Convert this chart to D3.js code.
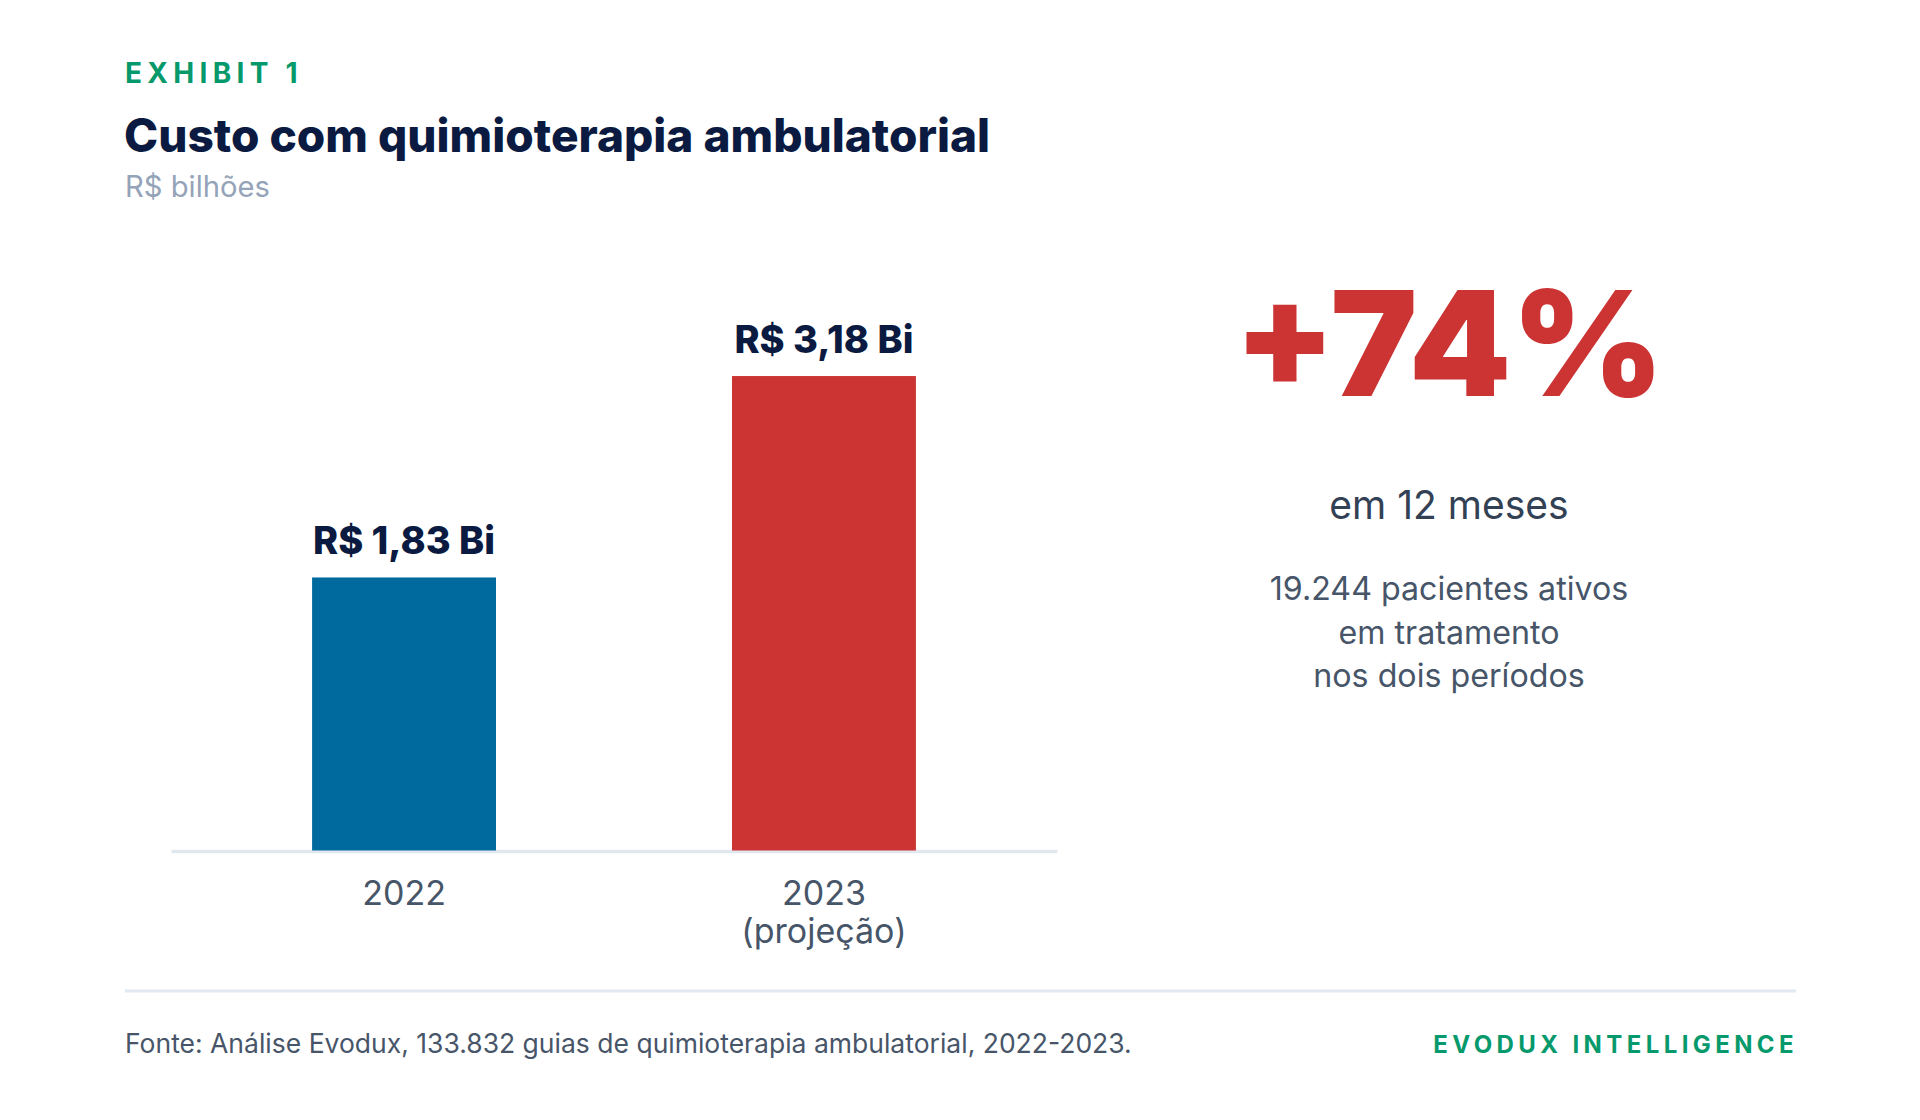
<!DOCTYPE html>
<html>
<head>
<meta charset="utf-8">
<script src="https://cdn.jsdelivr.net/npm/d3@7"></script>
<style>
  html, body { margin: 0; padding: 0; background: #ffffff; }
  svg { display: block; font-family: Inter, "Noto Sans", sans-serif; }
</style>
</head>
<body>
<svg id="chart" width="1920" height="1120"></svg>
<script>
// Exhibit 1: ambulatory chemotherapy cost, 2022 vs 2023 projection.

const years = ["2022", "2023"];
const yearNotes = ["", "(projeção)"];
const costs = [1.83, 3.18];            // R$ bilhões
const barColors = ["#006a9e", "#cc3333"];
const sideLines = ["19.244 pacientes ativos", "em tratamento", "nos dois períodos"];

const navy = "#0b1a40";
const green = "#06996b";
const slate = "#475569";

const svg = d3.select("#chart");

// header
svg.append("text")
  .attr("x", 125).attr("y", 83)
  .attr("font-size", 28).attr("font-weight", 700)
  .attr("letter-spacing", 5.3)
  .attr("fill", green)
  .text("EXHIBIT 1");

svg.append("text")
  .attr("x", 124).attr("y", 152)
  .attr("font-size", 46).attr("font-weight", 800)
  .attr("fill", navy)
  .text("Custo com quimioterapia ambulatorial");

svg.append("text")
  .attr("x", 125).attr("y", 197)
  .attr("font-size", 29.2)
  .attr("fill", "#94a3b8")
  .text("R$ bilhões");

// bars
const x = d3.scaleBand()
  .domain(years)
  .range([171, 1057])
  .paddingInner(0.562)
  .paddingOuter(0.336);

const y = d3.scaleLinear()
  .domain([0, 3.5])
  .range([850.5, 850.5 - 3.5 * 149.2]);

const xAxis = d3.axisBottom(x).tickSize(0).tickSizeOuter(0);

const axisG = svg.append("g")
  .attr("transform", `translate(0,${851})`)
  .call(xAxis);

axisG.select(".domain")
  .attr("stroke", "#e2e8f0")
  .attr("stroke-width", 3.5);

axisG.selectAll(".tick text").each(function(d, i) {
  const t = d3.select(this)
    .attr("y", 54)
    .attr("dy", null)
    .attr("font-family", "Inter, 'Noto Sans', sans-serif")
    .attr("font-size", 34)
    .attr("fill", slate)
    .text(null);
  t.append("tspan").attr("x", 0).text(d);
  if (yearNotes[i]) {
    t.append("tspan").attr("x", 0).attr("dy", 38).text(yearNotes[i]);
  }
});

const fmt = v => `R$ ${d3.format(".2f")(v).replace(".", ",")} Bi`;

svg.selectAll(".bar")
  .data(costs)
  .join("rect")
  .attr("class", "bar")
  .attr("x", (d, i) => x(years[i]))
  .attr("y", d => y(d))
  .attr("width", x.bandwidth())
  .attr("height", d => y(0) - y(d))
  .attr("fill", (d, i) => barColors[i]);

svg.selectAll(".bar-label")
  .data(costs)
  .join("text")
  .attr("class", "bar-label")
  .attr("x", (d, i) => x(years[i]) + x.bandwidth() / 2)
  .attr("y", d => y(d) - 23)
  .attr("text-anchor", "middle")
  .attr("font-size", 38).attr("font-weight", 800)
  .attr("fill", navy)
  .text(fmt);

// growth callout
const growth = Math.round((costs[1] / costs[0] - 1) * 100);
const cx = 1449;

svg.append("text")
  .attr("x", cx).attr("y", 396)
  .attr("text-anchor", "middle")
  .attr("font-size", 146).attr("font-weight", 900)
  .attr("fill", "#cc3333")
  .text(`+${growth}%`);

svg.append("text")
  .attr("x", cx).attr("y", 519)
  .attr("text-anchor", "middle")
  .attr("font-size", 39)
  .attr("fill", "#334155")
  .text("em 12 meses");

svg.selectAll(".side-line")
  .data(sideLines)
  .join("text")
  .attr("class", "side-line")
  .attr("x", cx)
  .attr("y", (d, i) => 600 + i * 43.6)
  .attr("text-anchor", "middle")
  .attr("font-size", 32.2)
  .attr("fill", slate)
  .text(d => d);

// footer
svg.append("line")
  .attr("x1", 125).attr("x2", 1796)
  .attr("y1", 991).attr("y2", 991)
  .attr("stroke", "#e2e8f0")
  .attr("stroke-width", 3);

svg.append("text")
  .attr("x", 125).attr("y", 1053)
  .attr("font-size", 26.5)
  .attr("fill", slate)
  .text("Fonte: Análise Evodux, 133.832 guias de quimioterapia ambulatorial, 2022-2023.");

svg.append("text")
  .attr("x", 1798).attr("y", 1053)
  .attr("text-anchor", "end")
  .attr("font-size", 24).attr("font-weight", 700)
  .attr("letter-spacing", 4.4)
  .attr("fill", green)
  .text("EVODUX INTELLIGENCE");
</script>
</body>
</html>
